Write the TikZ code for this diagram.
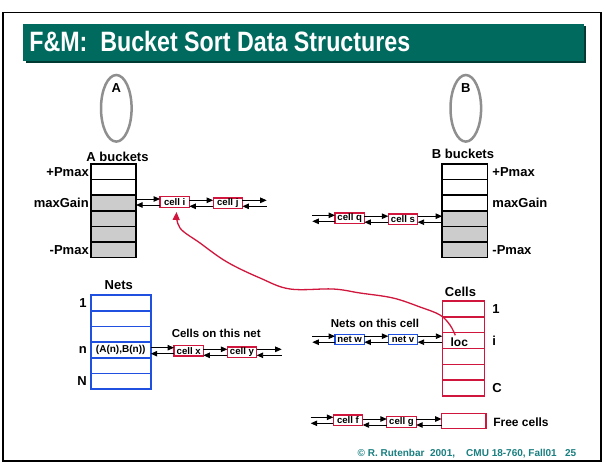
\documentclass[tikz,border=0pt]{standalone}
\usepackage{fontspec}
\setmainfont{Liberation Sans}
\usepackage{graphicx}
\usetikzlibrary{arrows.meta,calc,shapes.geometric}
\definecolor{titlebg}{HTML}{006A5E}
\definecolor{titlesh}{HTML}{003A33}
\definecolor{footc}{HTML}{1A7F80}
\definecolor{netblue}{HTML}{2050E0}
\definecolor{cellred}{HTML}{D0163C}
\definecolor{bgray}{HTML}{CCCCCC}
\definecolor{ovgray}{HTML}{8F8F8F}
\newcommand\fs[1]{\fontsize{#1}{#1}\selectfont\bfseries}
\newcommand\dlink[3]{%
  \draw[link] ($(#1 |- #3)+(0pt,3pt)$) -- ($(#2 |- #3)+(0pt,3pt)$);
  \draw[link] ($(#2 |- #3)+(0pt,-3pt)$) -- ($(#1 |- #3)+(0pt,-3pt)$);}
\begin{document}
\begin{tikzpicture}[x=1pt,y=-1pt,
  every node/.style={inner sep=0pt,outer sep=0pt},
  txt/.style={font=\fs{13}},
  mid/.style={font=\fs{11.5}},
  brow/.style={draw=black,line width=1.6pt,minimum width=45.3pt,minimum height=15.6pt},
  nrow/.style={draw=netblue,line width=1.6pt,minimum width=60pt,minimum height=15.7pt},
  crow/.style={draw=cellred,line width=1.6pt,minimum width=42pt,minimum height=15.83pt},
  cbox/.style={draw=cellred,line width=1.2pt,fill=white,font=\fs{9.6},minimum width=29.3pt,minimum height=10.5pt},
  nbox/.style={draw=netblue,line width=1.2pt,fill=white,font=\fs{9.6},minimum width=29.3pt,minimum height=10pt},
  oval/.style={draw=ovgray,line width=2.5pt,ellipse,minimum width=30.6pt,minimum height=66.6pt},
  link/.style={-{Triangle[length=6.5pt,width=5.5pt]},line width=0.9pt,black}]
\useasboundingbox (0,0) rectangle (608,463);
\fill[white] (0,0) rectangle (608,463);
\draw[line width=1.6pt] (3,12.5) rectangle (601,461);
% title
\fill[titlesh] (25.5,26) rectangle (586,62.7);
\fill[titlebg] (23,24) rectangle (584,61);
\node[anchor=base west,text=white] (title) at (29.3,51.7) {\scalebox{0.83}[1]{\fs{28}F\&M:~~Bucket Sort Data Structures}};
% ovals
\node[oval] (ovA) at (116.3,108.3) {};
\node[txt] (lblA) at (116.3,88.3) {A};
\node[oval] (ovB) at (465.8,108.3) {};
\node[txt] (lblB) at (465.8,88.3) {B};
% A buckets
\node[txt] (hA) at (117.5,156.7) {A buckets};
\foreach \k/\f in {1/white,2/white,3/bgray,4/bgray,5/bgray,6/bgray}
  \node[brow,fill=\f] (ra\k) at (113.4,{164+15.6*(\k-0.5)}) {};
\node[txt,anchor=east] (lApm) at ($(ra1.west)+(-2pt,0pt)$) {+Pmax};
\node[txt,anchor=east] (lAmg) at ($(ra3.west)+(-2pt,0pt)$) {maxGain};
\node[txt,anchor=east] (lAmm) at ($(ra6.west)+(-2pt,0pt)$) {-Pmax};
% B buckets
\node[txt] (hB) at (463,154.3) {B buckets};
\foreach \k/\f in {1/white,2/white,3/white,4/bgray,5/bgray,6/bgray}
  \node[brow,fill=\f] (rb\k) at (464.8,{164+15.6*(\k-0.5)}) {};
\node[txt,anchor=west] (lBpm) at ($(rb1.east)+(5pt,0pt)$) {+Pmax};
\node[txt,anchor=west] (lBmg) at ($(rb3.east)+(5pt,0pt)$) {maxGain};
\node[txt,anchor=west] (lBmm) at ($(rb6.east)+(5pt,0pt)$) {-Pmax};
% cells on A side
\node[cbox] (ci) at (174.7,202) {cell i};
\node[cbox] (cj) at (227.8,203.3) {cell j};
\coordinate (aR) at (266.7,203);
\dlink{ra3.east}{ci.west}{ci}
\dlink{ci.east}{cj.west}{cj}
\dlink{cj.east}{aR}{cj}
% cells on B side
\node[cbox] (cq) at (349.7,218.3) {cell q};
\node[cbox] (cs) at (403,219.2) {cell s};
\coordinate (bL) at (312.3,218);
\dlink{bL}{cq.west}{cq}
\dlink{cq.east}{cs.west}{cs}
\dlink{cs.east}{rb4.west}{cs}
% Nets
\node[txt] (hN) at (118.8,285) {Nets};
\foreach \k in {1,...,6}
  \node[nrow] (nt\k) at (120.7,{295+15.7*(\k-0.5)}) {};
\node[font=\fs{10}] (abn) at (nt4) {(A(n),B(n))};
\node[txt,anchor=east] (lN1) at ($(nt1.west)+(-4pt,0pt)$) {1};
\node[txt,anchor=east] (lNn) at ($(nt4.west)+(-4pt,0pt)$) {n};
\node[txt,anchor=east] (lNN) at ($(nt6.west)+(-4pt,0pt)$) {N};
\node[mid] (hcn) at (216.2,333.3) {Cells on this net};
\node[cbox] (cx) at (188.7,350.7) {cell x};
\node[cbox] (cy) at (242,352.3) {cell y};
\coordinate (nR) at (281.7,351);
\dlink{nt4.east}{cx.west}{cx}
\dlink{cx.east}{cy.west}{cy}
\dlink{cy.east}{nR}{cy}
% Cells
\node[txt] (hC) at (460.5,291.7) {Cells};
\foreach \k in {1,...,6}
  \node[crow] (cr\k) at (463.3,{301+15.83*(\k-0.5)}) {};
\node[font=\fs{12}] (loc) at (459.3,342.7) {loc};
\node[txt,anchor=west] (lC1) at ($(cr1.east)+(8pt,0pt)$) {1};
\node[txt,anchor=west] (lCi) at ($(cr3.east)+(8pt,0pt)$) {i};
\node[txt,anchor=west] (lCC) at ($(cr6.east)+(8pt,0pt)$) {C};
\node[mid] (hnc) at (375,323.3) {Nets on this cell};
\node[nbox] (nw) at (349.7,339.2) {net w};
\node[nbox] (nv) at (403,339.2) {net v};
\coordinate (cL) at (312.3,339);
\dlink{cL}{nw.west}{nw}
\dlink{nw.east}{nv.west}{nv}
\dlink{nv.east}{cr3.west}{nv}
% Free cells
\node[draw=cellred,line width=1.6pt,minimum width=44.3pt,minimum height=15pt] (free) at (463.8,420.8) {};
\node[font=\fs{12},anchor=west] (hfree) at (493.3,422.3) {Free cells};
\node[cbox] (cf) at (348,420.3) {cell f};
\node[cbox] (cg) at (401.5,422) {cell g};
\coordinate (fL) at (310.7,420);
\dlink{fL}{cf.west}{cf}
\dlink{cf.east}{cg.west}{cg}
\dlink{cg.east}{free.west}{cg}
% red pointer
\draw[cellred,line width=1.3pt,-{Triangle[length=8pt,width=7pt]}]
  plot[smooth,tension=0.6] coordinates {([xshift=-4pt,yshift=3pt]loc.north) (450,325) (440,315) (420,307) (393,298) (360,293) (333,289) (290,289) (260,278) (227,262) (200,243) (180,228) (176.5,212)};
% footer
\node[anchor=west,text=footc,font=\fs{10}] (foot) at (357.7,454) {© R. Rutenbar~~2001,~~~~CMU 18-760, Fall01~~~25};
\end{tikzpicture}
\end{document}
